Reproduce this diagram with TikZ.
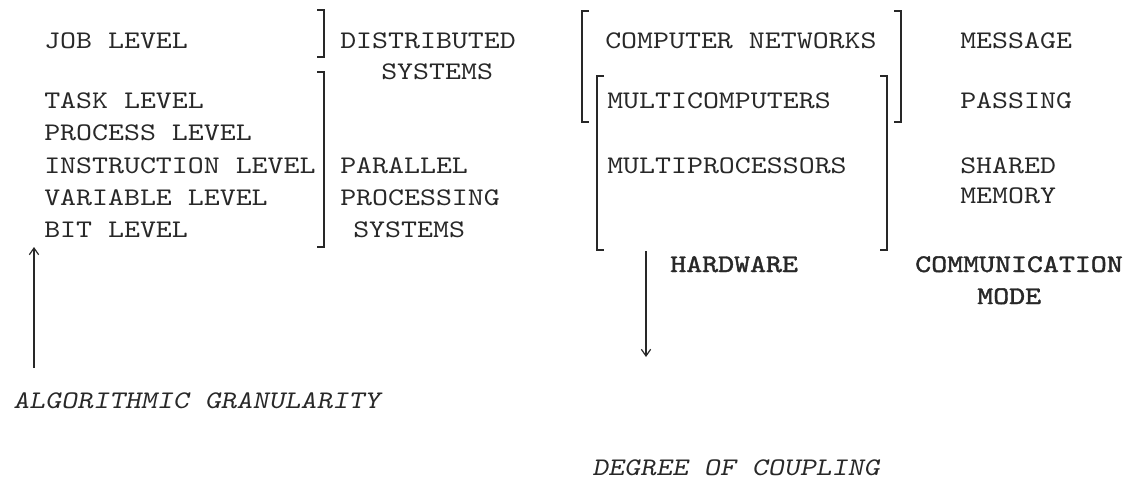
\documentclass[tikz,border=0pt]{standalone}
\usepackage{fontspec}
\newfontfamily\twfont[FakeStretch=1.2]{lmmono10-regular.otf}
\newfontfamily\twbold[FakeStretch=1.2,FakeBold=1.6]{lmmono10-regular.otf}
\newfontfamily\twslant[FakeStretch=1.2,FakeSlant=0.2]{lmmono10-regular.otf}
\usetikzlibrary{arrows.meta}

\definecolor{ink}{RGB}{40,40,40}

\tikzset{
  lvl/.style={anchor=base west, inner sep=0pt, text=ink,
    font=\twfont\fontsize{19}{24}\selectfont},
  head/.style={lvl, font=\twbold\fontsize{19}{24}\selectfont},
  axis/.style={lvl, font=\twslant\fontsize{19}{24}\selectfont},
  brk/.style={draw=ink, line width=0.9},
  arw/.style={draw=ink, line width=0.9, -{Straight Barb[length=5pt,width=7pt]}}
}

\begin{document}
\begin{tikzpicture}[x=0.75pt,y=0.75pt,yscale=-1,xscale=1]
\useasboundingbox (0,0) rectangle (1127,481);

% Text Node
\node [lvl] (job) at (44,49) {JOB LEVEL};
% Text Node
\node [lvl] (task) at (44,109) {TASK LEVEL};
% Text Node
\node [lvl] (proc) at (44,141) {PROCESS LEVEL};
% Text Node
\node [lvl] (instr) at (44,173) {INSTRUCTION LEVEL};
% Text Node
\node [lvl] (var) at (44,205) {VARIABLE LEVEL};
% Text Node
\node [lvl] (bit) at (44,237) {BIT LEVEL};

% Text Node
\node [lvl] (dist) at (340,49) {DISTRIBUTED};
% Text Node
\node [lvl] (distsys) at (381,80) {SYSTEMS};
% Text Node
\node [lvl] (par) at (340,173) {PARALLEL};
% Text Node
\node [lvl] (parproc) at (340,205) {PROCESSING};
% Text Node
\node [lvl] (parsys) at (353,237) {SYSTEMS};

% Text Node
\node [lvl] (net) at (605,49) {COMPUTER NETWORKS};
% Text Node
\node [lvl] (mcomp) at (607,109) {MULTICOMPUTERS};
% Text Node
\node [lvl] (mproc) at (607,173) {MULTIPROCESSORS};

% Text Node
\node [lvl] (msg) at (960,49) {MESSAGE};
% Text Node
\node [lvl] (pass) at (960,109) {PASSING};
% Text Node
\node [lvl] (shrd) at (960,173) {SHARED};
% Text Node
\node [lvl] (mem) at (960,203) {MEMORY};

% Text Node
\node [head] (hw) at (670,272) {HARDWARE};
% Text Node
\node [head] (comm) at (915,272) {COMMUNICATION};
% Text Node
\node [head] (mode) at (977,304) {MODE};

% Text Node
\node [axis] (gran) at (13,408) {ALGORITHMIC GRANULARITY};
% Text Node
\node [axis] (coup) at (592,475) {DEGREE OF COUPLING};

%Brackets, left
\draw [brk] (317,10) -- (324,10) -- (324,57) -- (317,57);
\draw [brk] (317,72) -- (324,72) -- (324,247) -- (317,247);

%Brackets, right
\draw [brk] (589,11) -- (582,11) -- (582,122) -- (589,122);
\draw [brk] (894,11) -- (901,11) -- (901,122) -- (894,122);
\draw [brk] (604,76) -- (597,76) -- (597,250) -- (604,250);
\draw [brk] (880,76) -- (887,76) -- (887,250) -- (880,250);

%Arrows
\coordinate (gbot) at (34,368);
\coordinate (gtop) at (34,247);
\draw [arw] (gbot) -- (gtop);
\coordinate (ctop) at (646,251);
\coordinate (cbot) at (646,357);
\draw [arw] (ctop) -- (cbot);

\end{tikzpicture}
\end{document}
